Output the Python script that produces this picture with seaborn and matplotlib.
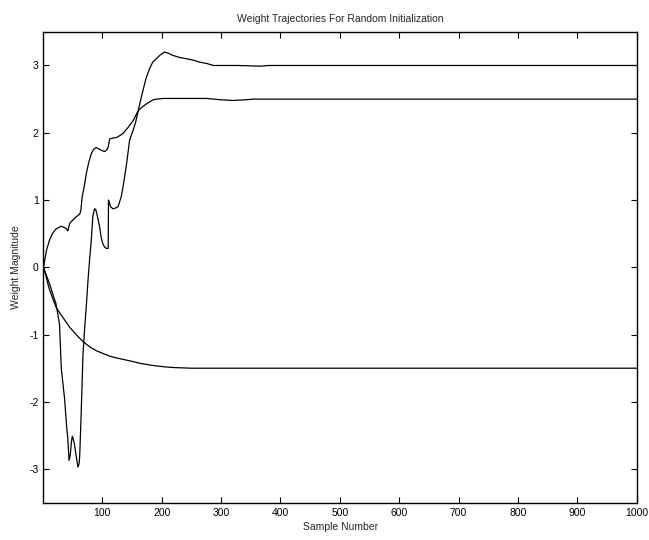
import matplotlib
matplotlib.use("Agg")
import matplotlib.pyplot as plt
import seaborn as sns
import pandas as pd

# Series 1: weight that settles at 3.0
sample_a = [1, 6, 11, 16, 22, 25, 28, 31, 34, 36.5, 40, 42, 44, 46, 48, 49.5, 51, 53, 56, 59, 61, 62,
            64, 65.5, 67.5, 70, 73, 76, 79, 81.5, 84, 87, 89, 92, 95.6, 98, 101, 104, 107, 110, 110.5,
            112, 114, 118, 122, 126.5, 132, 136, 141, 146, 152, 156, 160.6, 165, 170, 174.5, 180, 185,
            191, 198, 205, 212, 219, 230, 242, 253, 264, 276, 287, 300, 330, 366, 380, 420, 1000]
weight_a = [0.0, -0.12, -0.24, -0.38, -0.54, -0.69, -0.85, -1.5, -1.75, -1.95, -2.37, -2.55, -2.87, -2.8,
            -2.6, -2.51, -2.55, -2.62, -2.8, -2.97, -2.92, -2.8, -2.3, -1.88, -1.3, -0.95, -0.59, -0.19,
            0.15, 0.4, 0.75, 0.87, 0.86, 0.75, 0.6, 0.45, 0.35, 0.3, 0.28, 0.28, 1.0, 0.96, 0.9, 0.87,
            0.88, 0.9, 1.05, 1.25, 1.54, 1.89, 2.04, 2.15, 2.33, 2.5, 2.68, 2.83, 2.96, 3.05, 3.1, 3.16,
            3.2, 3.18, 3.15, 3.12, 3.1, 3.08, 3.05, 3.03, 3.0, 3.0, 3.0, 2.99, 3.0, 3.0, 3.0]

# Series 2: weight that settles at 2.5
sample_b = [1, 6, 11, 16, 22, 31, 39, 42, 45, 50, 56, 62, 64, 66, 70, 73, 77, 81.5, 86, 90, 94, 98.5,
            104, 108, 110, 112.5, 118, 124, 130, 135, 143.5, 152, 160.6, 167, 174.5, 180, 185.6, 192,
            202.5, 240, 276, 300, 321, 340, 355, 400, 1000]
weight_b = [0.0, 0.25, 0.4, 0.5, 0.57, 0.61, 0.58, 0.54, 0.65, 0.7, 0.75, 0.79, 0.85, 1.04, 1.22, 1.39,
            1.55, 1.69, 1.76, 1.78, 1.76, 1.74, 1.72, 1.75, 1.79, 1.91, 1.92, 1.93, 1.96, 1.99, 2.08,
            2.18, 2.33, 2.38, 2.43, 2.46, 2.49, 2.5, 2.51, 2.51, 2.51, 2.49, 2.48, 2.49, 2.5, 2.5, 2.5]

# Series 3: weight that settles at -1.5
sample_c = [1, 5, 10, 16, 22, 30, 38, 45, 56, 67, 80, 90, 101, 112, 125, 146, 165, 186, 205, 220,
            250, 300, 1000]
weight_c = [0.0, -0.12, -0.3, -0.45, -0.59, -0.7, -0.8, -0.89, -1.0, -1.1, -1.19, -1.24, -1.28, -1.32,
            -1.35, -1.39, -1.43, -1.46, -1.48, -1.49, -1.5, -1.5, -1.5]

x_ticks = [100, 200, 300, 400, 500, 600, 700, 800, 900, 1000]
y_ticks = [-3, -2, -1, 0, 1, 2, 3]

df = pd.concat([
    pd.DataFrame({"sample": sample_a, "weight": weight_a, "series": "a"}),
    pd.DataFrame({"sample": sample_b, "weight": weight_b, "series": "b"}),
    pd.DataFrame({"sample": sample_c, "weight": weight_c, "series": "c"}),
])

sns.set_style("ticks", {"xtick.direction": "in", "ytick.direction": "in"})
plt.rcParams["font.family"] = ["Liberation Sans", "DejaVu Sans"]
plt.rcParams["axes.unicode_minus"] = False

fig = plt.figure(figsize=(6.49, 5.40), dpi=100)
ax = fig.add_axes([0.067, 0.069, 0.914, 0.872])

sns.lineplot(data=df, x="sample", y="weight", units="series", estimator=None, sort=False,
             color="black", linewidth=0.9, ax=ax)

ax.set_xlim(1, 1000)
ax.set_ylim(-3.5, 3.5)
ax.set_xticks(x_ticks)
ax.set_yticks(y_ticks)
ax.tick_params(axis="both", direction="in", length=4, width=0.8, labelsize=7.5,
               top=True, right=True, colors="black")
for s in ax.spines.values():
    s.set_color("black")
    s.set_linewidth(1.0)

ax.set_title("Weight Trajectories For Random Initialization", fontsize=7.5, pad=7)
ax.set_xlabel("Sample Number", fontsize=7.5, labelpad=3)
ax.set_ylabel("Weight Magnitude", fontsize=7.5, labelpad=6)

fig.savefig("out.png", dpi=100, facecolor="white")
